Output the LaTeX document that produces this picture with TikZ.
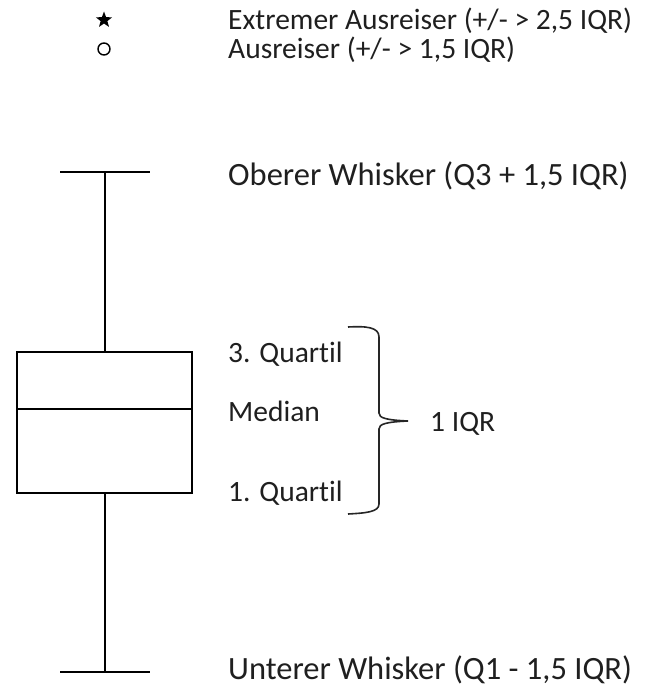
\documentclass[tikz,border=0pt]{standalone}
\usepackage{fontspec}
\setmainfont{Carlito}[Ligatures={NoCommon}]
\usetikzlibrary{shapes.geometric}
\begin{document}
\begin{tikzpicture}[x=1pt,y=-1pt,
  plotline/.style={line width=2.6pt, black},
  bracestyle/.style={line width=1.6pt, black!85},
  lbl/.style={anchor=base west, inner sep=0pt, font=\fontsize{29.5}{34}\selectfont, text=black!88},
  biglbl/.style={lbl, font=\fontsize{32.5}{38}\selectfont}]
\useasboundingbox (0,0) rectangle (649,687);
% outlier symbols
\node[star, star points=5, star point ratio=2.4, fill=black, inner sep=0pt, minimum size=17pt] (st) at (104,20) {};
\node[circle, draw=black, line width=1.4pt, inner sep=0pt, minimum size=12pt] (ci) at (104,49) {};
\node[lbl] (t1) at (228,30) {Extremer Ausreiser (+/- > 2,5 IQR)};
\node[lbl] (t2) at (228,59) {Ausreiser (+/- > 1,5 IQR)};
% box plot
\coordinate (capTL) at (60,172);
\coordinate (capTR) at (150,172);
\coordinate (capTM) at (105,172);
\coordinate (boxTM) at (105,352);
\coordinate (boxBM) at (105,493);
\coordinate (capBM) at (105,672);
\coordinate (capBL) at (60,672);
\coordinate (capBR) at (150,672);
\draw[plotline] (capTL) -- (capTR);
\draw[plotline] (capTM) -- (boxTM);
\draw[plotline] (17,352) rectangle (192,493);
\draw[plotline] (17,409) -- (192,409);
\draw[plotline] (boxBM) -- (capBM);
\draw[plotline] (capBL) -- (capBR);
% labels
\node[biglbl] (ow) at (228,185) {Oberer Whisker (Q3 + 1,5 IQR)};
\node[lbl] (q3) at (228,362) {3. Quartil};
\node[lbl] (md) at (228,421) {Median};
\node[lbl] (q1) at (228,501) {1. Quartil};
\node[biglbl] (uw) at (228,679) {Unterer Whisker (Q1 - 1,5 IQR)};
\node[lbl] (iqr) at (430,431) {1 IQR};
% brace
\draw[bracestyle] (348,327) .. controls (366,326) and (379,327) .. (379,337)
  -- (379,413) .. controls (379,418) and (386,420) .. (408,421)
  .. controls (386,422) and (379,424) .. (379,429)
  -- (379,504) .. controls (379,512) and (366,513) .. (348,514);
\end{tikzpicture}
\end{document}
